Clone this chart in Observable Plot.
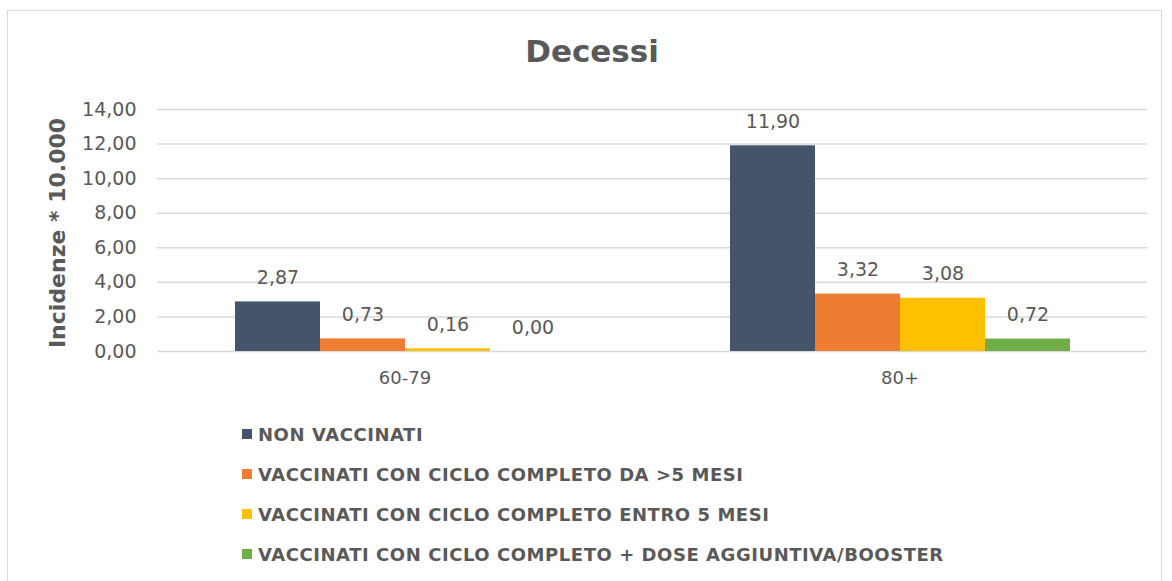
<!DOCTYPE html>
<html><head><meta charset="utf-8">
<script src="https://cdn.jsdelivr.net/npm/d3@7"></script>
<script src="https://cdn.jsdelivr.net/npm/@observablehq/plot@0.6"></script>
<style>
body{margin:0;background:#fff;}
#wrap{position:relative;width:1172px;height:581px;overflow:hidden;font-family:"DejaVu Sans",sans-serif;color:#595959;}
#frame{position:absolute;left:7px;top:10px;width:1155px;height:600px;border:1px solid #d9d9d9;box-sizing:border-box;}
#title{position:absolute;left:0;width:1184px;top:29px;text-align:center;font-family:"DejaVu Sans",sans-serif;font-weight:bold;font-size:31px;color:#595959;line-height:44px;}
#chart{position:absolute;left:0;top:90px;}
#ylab{position:absolute;left:57px;top:233px;transform:translate(-50%,-50%) rotate(-90deg);white-space:nowrap;font-family:"DejaVu Sans",sans-serif;font-weight:bold;font-size:22px;color:#595959;}
.leg{position:absolute;left:242px;height:20px;display:flex;align-items:center;font-family:"DejaVu Sans",sans-serif;font-weight:bold;font-size:18px;letter-spacing:0.55px;color:#595959;white-space:nowrap;}
.leg span.sw{display:inline-block;width:10px;height:10px;margin-right:6px;}
</style></head>
<body>
<div id="wrap">
<div id="frame"></div>
<div id="title">Decessi</div>
<div id="chart"></div>
<div id="ylab">Incidenze * 10.000</div>
<div id="legend"></div>
</div>
<script>
const groups = ["60-79", "80+"];
const series = [
  "NON VACCINATI",
  "VACCINATI CON CICLO COMPLETO DA >5 MESI",
  "VACCINATI CON CICLO COMPLETO ENTRO 5 MESI",
  "VACCINATI CON CICLO COMPLETO + DOSE AGGIUNTIVA/BOOSTER"
];
const values6079 = [2.87, 0.73, 0.16, 0.00];
const values80 = [11.90, 3.32, 3.08, 0.72];
const colors = ["#44546A", "#ED7D31", "#FFC000", "#70AD47"];
const yTicks = [0, 2, 4, 6, 8, 10, 12, 14];

const fmt = d => d.toFixed(2).replace(".", ",");
const data = [];
series.forEach((s, i) => {
  data.push({group: groups[0], series: s, value: values6079[i]});
  data.push({group: groups[1], series: s, value: values80[i]});
});

const chart = Plot.plot({
  width: 1172,
  height: 320,
  marginLeft: 157,
  marginRight: 25,
  marginTop: 19,
  marginBottom: 59,
  style: {fontFamily: "'DejaVu Sans', sans-serif", color: "#595959", background: "transparent"},
  fx: {domain: groups, padding: 0},
  x: {domain: series, paddingInner: 0, paddingOuter: 0.91, axis: null},
  y: {domain: [0, 14]},
  color: {domain: series, range: colors},
  marks: [
    Plot.ruleY(yTicks, {stroke: "#d9d9d9", strokeWidth: 1.5}),
    Plot.barY(data, {fx: "group", x: "series", y: "value", fill: "series"}),
    Plot.text(data, {fx: "group", x: "series", y: "value", text: d => fmt(d.value), dy: -24, fill: "#595959", fontSize: 19}),
    Plot.axisY({ticks: yTicks, tickSize: 0, tickPadding: 21, tickFormat: fmt, fontSize: 19, label: null, fill: "#595959"}),
    Plot.axisFx({anchor: "bottom", tickSize: 0, tickPadding: 20, fontSize: 18, label: null, fill: "#595959"})
  ]
});
document.getElementById("chart").appendChild(chart);

const legend = document.getElementById("legend");
const rowCenters = [434, 474, 514, 554];
series.forEach((s, i) => {
  const row = document.createElement("div");
  row.className = "leg";
  row.style.top = (rowCenters[i] - 10) + "px";
  const sw = document.createElement("span");
  sw.className = "sw";
  sw.style.background = colors[i];
  row.appendChild(sw);
  row.appendChild(document.createTextNode(s));
  legend.appendChild(row);
});
</script>
</body></html>
